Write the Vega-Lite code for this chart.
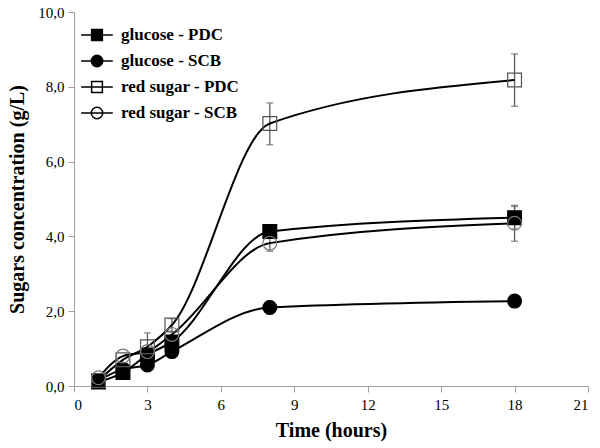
{
  "$schema": "https://vega.github.io/schema/vega-lite/v6.json",
  "width": 514,
  "height": 374,
  "autosize": "none",
  "padding": {"left": 74, "top": 12, "right": 12, "bottom": 62},
  "background": "white",
  "config": {
    "view": {"stroke": null},
    "font": "Liberation Serif",
    "axis": {"grid": false, "domainColor": "#a0a0a0", "tickColor": "#a0a0a0", "labelColor": "black", "labelFont": "Liberation Serif", "labelFontSize": 15, "titleFont": "Liberation Serif", "titleFontSize": 20, "titleFontWeight": "bold", "titleColor": "black", "tickSize": 6}
  },
  "data": {"values": [
    {"series": "glucose - PDC", "time": 1, "value": 0.11, "lo": null, "hi": null},
    {"series": "glucose - PDC", "time": 2, "value": 0.36, "lo": null, "hi": null},
    {"series": "glucose - PDC", "time": 3, "value": 0.83, "lo": null, "hi": null},
    {"series": "glucose - PDC", "time": 4, "value": 1.18, "lo": null, "hi": null},
    {"series": "glucose - PDC", "time": 8, "value": 4.13, "lo": null, "hi": null},
    {"series": "glucose - PDC", "time": 18, "value": 4.5, "lo": 4.2, "hi": 4.8},
    {"series": "glucose - SCB", "time": 1, "value": 0.15, "lo": null, "hi": null},
    {"series": "glucose - SCB", "time": 2, "value": 0.45, "lo": null, "hi": null},
    {"series": "glucose - SCB", "time": 3, "value": 0.56, "lo": null, "hi": null},
    {"series": "glucose - SCB", "time": 4, "value": 0.92, "lo": null, "hi": null},
    {"series": "glucose - SCB", "time": 8, "value": 2.1, "lo": 1.93, "hi": 2.27},
    {"series": "glucose - SCB", "time": 18, "value": 2.27, "lo": null, "hi": null},
    {"series": "red sugar - PDC", "time": 1, "value": 0.15, "lo": null, "hi": null},
    {"series": "red sugar - PDC", "time": 2, "value": 0.7, "lo": null, "hi": null},
    {"series": "red sugar - PDC", "time": 3, "value": 1.05, "lo": 0.68, "hi": 1.42},
    {"series": "red sugar - PDC", "time": 4, "value": 1.63, "lo": 1.46, "hi": 1.8},
    {"series": "red sugar - PDC", "time": 8, "value": 7.02, "lo": 6.45, "hi": 7.57},
    {"series": "red sugar - PDC", "time": 18, "value": 8.18, "lo": 7.48, "hi": 8.88},
    {"series": "red sugar - SCB", "time": 1, "value": 0.22, "lo": null, "hi": null},
    {"series": "red sugar - SCB", "time": 2, "value": 0.8, "lo": null, "hi": null},
    {"series": "red sugar - SCB", "time": 3, "value": 0.92, "lo": null, "hi": null},
    {"series": "red sugar - SCB", "time": 4, "value": 1.38, "lo": null, "hi": null},
    {"series": "red sugar - SCB", "time": 8, "value": 3.82, "lo": 3.6, "hi": 4.04},
    {"series": "red sugar - SCB", "time": 18, "value": 4.35, "lo": 3.87, "hi": 4.83}
  ]},
  "encoding": {
    "x": {"field": "time", "type": "quantitative", "scale": {"domain": [0, 21], "nice": false}, "axis": {"values": [0, 3, 6, 9, 12, 15, 18, 21], "title": "Time (hours)", "labelFont": "Liberation Serif", "labelPadding": 5, "titlePadding": 8}},
    "y": {"field": "value", "type": "quantitative", "scale": {"domain": [0, 10], "nice": false}, "axis": {"values": [0, 2, 4, 6, 8, 10], "labelFont": "Liberation Serif", "labelExpr": "replace(format(datum.value, '.1f'), '.', ',')", "title": "Sugars concentration (g/L)", "labelPadding": 4, "titlePadding": 10}}
  },
  "layer": [
    {
      "mark": {"type": "point", "filled": false, "size": 0, "strokeWidth": 1.5, "opacity": 1},
      "encoding": {
        "shape": {"field": "series", "type": "nominal", "scale": {"domain": ["glucose - PDC", "glucose - SCB", "red sugar - PDC", "red sugar - SCB"], "range": ["M-1,0H1M-0.34,-0.34H0.34V0.34H-0.34Z", "M-1,0H1M0.36,0A0.36,0.36 0 1,1 -0.36,0A0.36,0.36 0 1,1 0.36,0Z", "M-1,0H1M-0.34,-0.34H0.34V0.34H-0.34Z", "M-1,0H1M0.36,0A0.36,0.36 0 1,1 -0.36,0A0.36,0.36 0 1,1 0.36,0Z"]},
          "legend": {"title": null, "orient": "top-left", "offset": 6, "padding": 0, "rowPadding": 0, "labelFont": "Liberation Serif", "labelFontSize": 17, "labelFontWeight": "bold", "labelColor": "black", "symbolSize": 1000, "symbolStrokeWidth": 1.5, "symbolOpacity": 1, "labelOffset": 7}},
        "fill": {"field": "series", "type": "nominal", "scale": {"domain": ["glucose - PDC", "glucose - SCB", "red sugar - PDC", "red sugar - SCB"], "range": ["black", "black", "white", "white"]},
          "legend": {"title": null, "orient": "top-left", "offset": 6, "padding": 0, "rowPadding": 0, "labelFont": "Liberation Serif", "labelFontSize": 17, "labelFontWeight": "bold", "labelColor": "black", "symbolSize": 1000, "symbolStrokeWidth": 1.5, "symbolOpacity": 1, "labelOffset": 7}},
        "stroke": {"field": "series", "type": "nominal", "scale": {"domain": ["glucose - PDC", "glucose - SCB", "red sugar - PDC", "red sugar - SCB"], "range": ["black", "black", "black", "black"]},
          "legend": {"title": null, "orient": "top-left", "offset": 6, "padding": 0, "rowPadding": 0, "labelFont": "Liberation Serif", "labelFontSize": 17, "labelFontWeight": "bold", "labelColor": "black", "symbolSize": 1000, "symbolStrokeWidth": 1.5, "symbolOpacity": 1, "labelOffset": 7}}
      }
    },
    {
      "transform": [{"filter": "datum.hi != null"}],
      "mark": {"type": "rule", "color": "#606060", "strokeWidth": 1.3},
      "encoding": {"y": {"field": "lo", "type": "quantitative"}, "y2": {"field": "hi"}, "detail": {"field": "series"}}
    },
    {
      "transform": [{"filter": "datum.hi != null"}],
      "mark": {"type": "tick", "color": "#606060", "size": 7, "thickness": 1.3, "orient": "horizontal"},
      "encoding": {"y": {"field": "hi", "type": "quantitative"}}
    },
    {
      "transform": [{"filter": "datum.hi != null"}],
      "mark": {"type": "tick", "color": "#606060", "size": 7, "thickness": 1.3, "orient": "horizontal"},
      "encoding": {"y": {"field": "lo", "type": "quantitative"}}
    },
    {
      "mark": {"type": "line", "color": "black", "strokeWidth": 2, "interpolate": "monotone"},
      "encoding": {"detail": {"field": "series"}}
    },
    {
      "mark": {"type": "point", "filled": false, "size": 190, "strokeWidth": 1.2, "opacity": 1},
      "encoding": {
        "shape": {"field": "series", "type": "nominal", "scale": {"domain": ["glucose - PDC", "glucose - SCB", "red sugar - PDC", "red sugar - SCB"], "range": ["square", "circle", "square", "circle"]}, "legend": null},
        "fill": {"field": "series", "type": "nominal", "scale": {"domain": ["glucose - PDC", "glucose - SCB", "red sugar - PDC", "red sugar - SCB"], "range": ["black", "black", "rgba(255,255,255,0)", "rgba(255,255,255,0)"]}, "legend": null},
        "stroke": {"field": "series", "type": "nominal", "scale": {"domain": ["glucose - PDC", "glucose - SCB", "red sugar - PDC", "red sugar - SCB"], "range": ["black", "black", "#555555", "#777777"]}, "legend": null}
      }
    }
  ],
  "resolve": {"scale": {"shape": "independent", "fill": "independent", "stroke": "independent"}, "legend": {"shape": "independent", "fill": "independent", "stroke": "independent"}}
}
